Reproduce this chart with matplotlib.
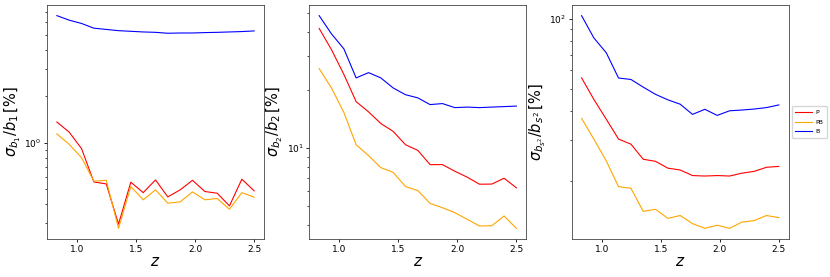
import numpy as np
import matplotlib
matplotlib.use("Agg")
import matplotlib.pyplot as plt

# redshift bins
z = [0.83, 0.934, 1.039, 1.143, 1.248, 1.352, 1.456, 1.561, 1.665,
     1.769, 1.874, 1.978, 2.083, 2.187, 2.291, 2.396, 2.5]

# sigma_b1 / b1 [%]
b1_P = [1.36, 1.17, 0.915, 0.557, 0.541, 0.297, 0.555, 0.475, 0.574,
        0.446, 0.495, 0.571, 0.483, 0.471, 0.39, 0.58, 0.488]
b1_PB = [1.14, 0.976, 0.80, 0.563, 0.571, 0.279, 0.52, 0.427, 0.495,
         0.406, 0.414, 0.48, 0.427, 0.435, 0.371, 0.475, 0.444]
b1_B = [6.63, 6.2, 5.9, 5.5, 5.4, 5.3, 5.25, 5.2, 5.17,
        5.1, 5.12, 5.12, 5.15, 5.17, 5.2, 5.23, 5.28]

# sigma_b2 / b2 [%]
b2_P = [41.7, 32.4, 24.1, 17.4, 15.4, 13.4, 12.2, 10.4, 9.72,
        8.2, 8.2, 7.58, 7.06, 6.49, 6.5, 6.97, 6.21]
b2_PB = [25.8, 20.5, 15.3, 10.4, 9.13, 7.91, 7.48, 6.31, 6.02,
         5.16, 4.9, 4.62, 4.27, 3.94, 3.95, 4.44, 3.83]
b2_B = [48.6, 39.1, 32.7, 23.1, 24.6, 23.1, 20.5, 18.9, 18.2,
        16.8, 17.0, 16.2, 16.3, 16.2, 16.3, 16.4, 16.5]

# sigma_bs2 / bs2 [%]
bs2_P = [55.6, 44.9, 36.9, 30.3, 28.8, 24.8, 24.3, 22.7, 22.3,
         21.1, 21.0, 21.1, 21.0, 21.6, 22.0, 22.9, 23.1]
bs2_PB = [37.2, 30.3, 24.4, 18.9, 18.6, 14.8, 15.1, 13.8, 14.2,
          13.1, 12.5, 12.9, 12.5, 13.3, 13.5, 14.2, 13.9]
bs2_B = [103, 82.6, 71.3, 55.5, 54.7, 50.7, 47.2, 44.7, 42.8,
         38.7, 40.7, 38.3, 40.1, 40.4, 40.8, 41.4, 42.5]

labels = ["P", "PB", "B"]
colors = ["red", "orange", "blue"]

panels = [
    ([b1_P, b1_PB, b1_B], r"$\sigma_{b_1}/b_1\,[\%]$"),
    ([b2_P, b2_PB, b2_B], r"$\sigma_{b_2}/b_2\,[\%]$"),
    ([bs2_P, bs2_PB, bs2_B], r"$\sigma_{b_{s^2}}/b_{s^2}\,[\%]$"),
]

W, H = 830, 277
fig = plt.figure(figsize=(W / 100, H / 100), dpi=100)
lefts = [47, 309.3, 571.7]
bottom = (H - 239) / H
height = 234 / H
width = 217 / W

for i, (series, ylab) in enumerate(panels):
    ax = fig.add_axes([lefts[i] / W, bottom, width, height])
    for s, lab, c in zip(series, labels, colors):
        ax.plot(z, s, color=c, lw=0.8, label=lab)
    ax.set_yscale("log")
    ax.set_xlabel(r"$z$", fontsize=11, labelpad=0)
    ax.set_ylabel(ylab, fontsize=10.5, labelpad=1)
    ax.set_xticks([1.0, 1.5, 2.0, 2.5])
    ax.tick_params(axis="both", which="major", labelsize=6.5, length=2.5,
                   width=0.6, pad=1.5)
    ax.tick_params(axis="both", which="minor", length=1.5, width=0.5)
    for sp in ax.spines.values():
        sp.set_linewidth(0.6)
        sp.set_color("#444444")
    if i == 2:
        ax.legend(loc="center left", bbox_to_anchor=(1.005, 0.5), fontsize=4.5,
                  handlelength=2.6, handletextpad=0.6, borderpad=0.6,
                  labelspacing=0.7, borderaxespad=0.3)

fig.savefig("out.png", dpi=100)
